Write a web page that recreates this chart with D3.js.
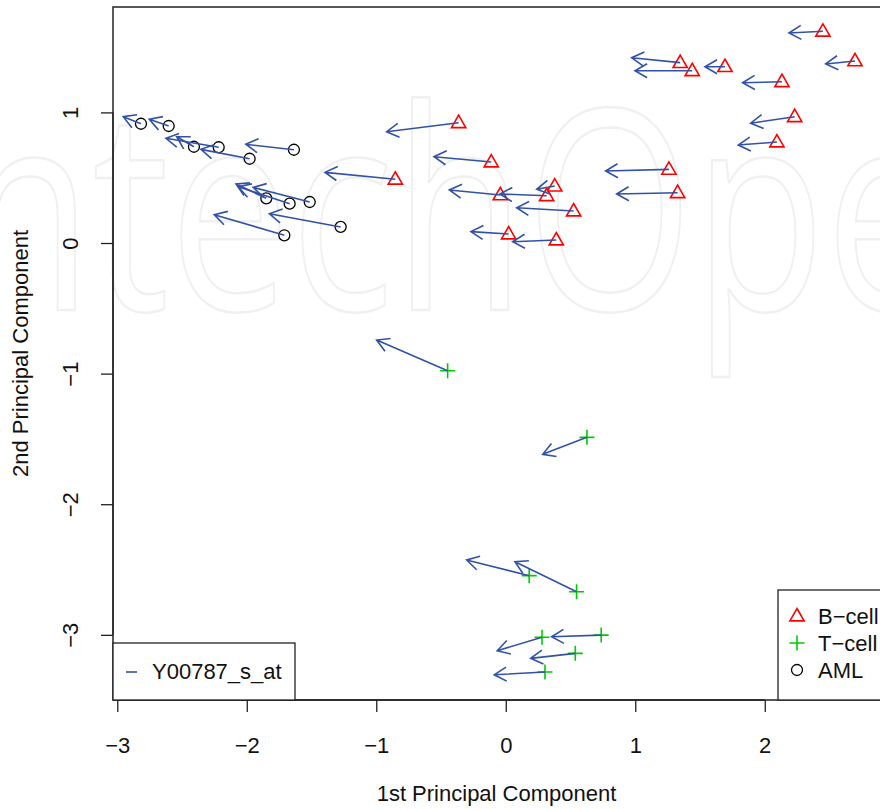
<!DOCTYPE html>
<html>
<head>
<meta charset="utf-8">
<script src="https://cdn.jsdelivr.net/npm/d3@7"></script>
<style>
  html, body { margin: 0; padding: 0; background: #fff; }
  svg { display: block; font-family: "Liberation Sans", Arial, Helvetica, sans-serif; }
</style>
</head>
<body>
<svg id="biplot" width="880" height="810"></svg>
<script>
// each row: [pc1, pc2, pc1 after shift, pc2 after shift]
const bCell = [
  [-0.364, 0.921, -0.920, 0.852],
  [-0.112, 0.620, -0.554, 0.661],
  [-0.853, 0.488, -1.396, 0.541],
  [-0.042, 0.368, -0.436, 0.406],
  [0.316, 0.362, -0.045, 0.375],
  [0.378, 0.436, 0.239, 0.411],
  [0.524, 0.245, 0.084, 0.270],
  [0.022, 0.069, -0.269, 0.087],
  [0.390, 0.023, 0.053, 0.010],
  [2.449, 1.621, 2.187, 1.608],
  [2.697, 1.394, 2.470, 1.371],
  [1.347, 1.381, 0.972, 1.419],
  [1.440, 1.319, 0.998, 1.319],
  [1.693, 1.350, 1.538, 1.350],
  [2.133, 1.235, 1.829, 1.227],
  [2.231, 0.967, 1.891, 0.917],
  [2.094, 0.773, 1.795, 0.750],
  [1.260, 0.564, 0.771, 0.551],
  [1.327, 0.385, 0.856, 0.375],
];

const tCell = [
  [-0.449, -0.978, -0.997, -0.743],
  [0.627, -1.488, 0.285, -1.618],
  [0.181, -2.547, -0.302, -2.427],
  [0.547, -2.670, 0.071, -2.440],
  [0.737, -3.002, 0.354, -3.015],
  [0.280, -3.019, -0.066, -3.122],
  [0.537, -3.142, 0.192, -3.180],
  [0.303, -3.285, -0.089, -3.306],
];

const aml = [
  [-2.817, 0.913, -2.954, 0.967],
  [-2.603, 0.896, -2.753, 0.947],
  [-2.408, 0.737, -2.541, 0.814],
  [-2.217, 0.733, -2.624, 0.802],
  [-1.978, 0.645, -2.354, 0.717],
  [-1.636, 0.714, -2.008, 0.756],
  [-1.849, 0.342, -2.083, 0.452],
  [-1.669, 0.301, -2.066, 0.431],
  [-1.514, 0.314, -1.950, 0.426],
  [-1.710, 0.059, -2.251, 0.217],
  [-1.275, 0.123, -1.825, 0.224],
];

const groupNames = ["B\u2212cell", "T\u2212cell", "AML"];
const geneName = "Y00787_s_at";
const xTicks = [-3, -2, -1, 0, 1, 2];
const yTicks = [-3, -2, -1, 0, 1];
const xTitle = "1st Principal Component";
const yTitle = "2nd Principal Component";

const red = "#ff0000";
const green = "#00cd00";
const arrowBlue = "#3152a6";

const svg = d3.select("#biplot");
const plotL = 113, plotR = 880, plotT = 7, plotB = 700;

const x = d3.scaleLinear().domain([-3.033, 2.890]).range([plotL, plotR]);
const y = d3.scaleLinear().domain([-3.499, 1.807]).range([plotB, plotT]);

// faint publisher watermark
svg
  .append("text")
  .text("IntechOpen")
  .attr("transform", "translate(-100, 310) scale(0.77, 1)")
  .attr("font-family", "Open Sans")
  .attr("font-size", 280)
  .attr("fill", "none")
  .attr("stroke", "#f0f0f0")
  .attr("stroke-width", 2.5);

// points
const marker = (g, kind, cx, cy) => {
  if (kind === "tri") {
    const s = 7.5;
    g.append("path")
      .attr("d", `M${cx},${cy - s}L${cx + s * 0.95},${cy + s * 0.65}L${cx - s * 0.95},${cy + s * 0.65}Z`)
      .attr("fill", "none")
      .attr("stroke", red)
      .attr("stroke-width", 1.6);
  } else if (kind === "plus") {
    const s = 7.5;
    g.append("path")
      .attr("d", `M${cx - s},${cy}H${cx + s}M${cx},${cy - s}V${cy + s}`)
      .attr("stroke", green)
      .attr("stroke-width", 1.6);
  } else {
    g.append("circle")
      .attr("cx", cx)
      .attr("cy", cy)
      .attr("r", 5.5)
      .attr("fill", "none")
      .attr("stroke", "#000")
      .attr("stroke-width", 1.3);
  }
};

const pts = svg.append("g");
bCell.forEach((d) => marker(pts, "tri", x(d[0]), y(d[1])));
tCell.forEach((d) => marker(pts, "plus", x(d[0]), y(d[1])));
aml.forEach((d) => marker(pts, "circ", x(d[0]), y(d[1])));

// arrows
const arrows = svg.append("g").attr("stroke", arrowBlue).attr("stroke-width", 1.6).attr("fill", "none");
const head = 14, ang = Math.PI / 6;
for (const d of [...bCell, ...tCell, ...aml]) {
  const x0 = x(d[0]), y0 = y(d[1]), x1 = x(d[2]), y1 = y(d[3]);
  const a = Math.atan2(y0 - y1, x0 - x1);
  arrows
    .append("path")
    .attr(
      "d",
      `M${x0},${y0}L${x1},${y1}` +
        `M${x1 + head * Math.cos(a + ang)},${y1 + head * Math.sin(a + ang)}L${x1},${y1}` +
        `L${x1 + head * Math.cos(a - ang)},${y1 + head * Math.sin(a - ang)}`
    );
}

// axes
const fmt = d3.format("");
const xAxis = svg
  .append("g")
  .attr("transform", `translate(0, ${plotB})`)
  .call(d3.axisBottom(x).tickValues(xTicks).tickSize(12).tickSizeOuter(0).tickPadding(25).tickFormat(fmt));
xAxis.select(".domain").attr("d", `M${x(xTicks[0])},0H${x(xTicks[xTicks.length - 1])}`);

const yAxis = svg
  .append("g")
  .attr("transform", `translate(${plotL}, 0)`)
  .call(d3.axisLeft(y).tickValues(yTicks).tickSize(12).tickSizeOuter(0).tickFormat(fmt));
yAxis.select(".domain").attr("d", `M0,${y(yTicks[0])}V${y(yTicks[yTicks.length - 1])}`);
yAxis
  .selectAll(".tick text")
  .attr("x", null)
  .attr("dy", null)
  .attr("text-anchor", "middle")
  .attr("transform", "translate(-35, 0) rotate(-90)");

for (const ax of [xAxis, yAxis]) {
  ax.attr("font-size", 22).attr("font-family", null);
  ax.selectAll("line, path").attr("stroke", "#222").attr("stroke-width", 1.3);
  ax.selectAll("text").attr("fill", "#111");
}

// plot box
svg
  .append("rect")
  .attr("x", plotL)
  .attr("y", plotT)
  .attr("width", plotR - plotL + 5)
  .attr("height", plotB - plotT)
  .attr("fill", "none")
  .attr("stroke", "#222")
  .attr("stroke-width", 1.5);

svg
  .append("text")
  .text(xTitle)
  .attr("x", (plotL + plotR) / 2)
  .attr("y", 801)
  .attr("text-anchor", "middle")
  .attr("font-size", 22)
  .attr("fill", "#111");

svg
  .append("text")
  .text(yTitle)
  .attr("transform", `translate(28, ${(plotT + plotB) / 2}) rotate(-90)`)
  .attr("text-anchor", "middle")
  .attr("font-size", 22)
  .attr("fill", "#111");

// legend: gene
const lg1 = svg.append("g");
lg1
  .append("rect")
  .attr("x", plotL)
  .attr("y", 643)
  .attr("width", 182)
  .attr("height", plotB - 643)
  .attr("fill", "#fff")
  .attr("stroke", "#222")
  .attr("stroke-width", 1.3);
lg1
  .append("line")
  .attr("x1", 126)
  .attr("x2", 137)
  .attr("y1", 672)
  .attr("y2", 672)
  .attr("stroke", arrowBlue)
  .attr("stroke-width", 1.6);
lg1
  .append("text")
  .text(geneName)
  .attr("x", 152)
  .attr("y", 679)
  .attr("font-size", 22)
  .attr("fill", "#111");

// legend: groups
const lg2 = svg.append("g");
lg2
  .append("rect")
  .attr("x", 778)
  .attr("y", 590)
  .attr("width", 130)
  .attr("height", plotB - 590)
  .attr("fill", "#fff")
  .attr("stroke", "#222")
  .attr("stroke-width", 1.3);
const rowY = [616, 643, 670];
const kinds = ["tri", "plus", "circ"];
groupNames.forEach((name, i) => {
  marker(lg2, kinds[i], 797, rowY[i]);
  lg2
    .append("text")
    .text(name)
    .attr("x", 818)
    .attr("y", rowY[i] + 8)
    .attr("font-size", 22)
    .attr("fill", "#111");
});
</script>
</body>
</html>
